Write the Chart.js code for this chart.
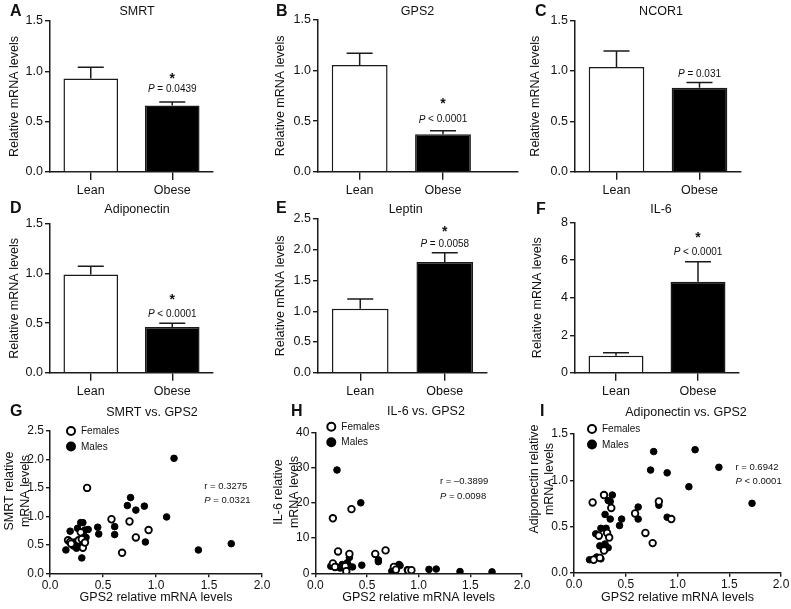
<!DOCTYPE html>
<html>
<head>
<meta charset="utf-8">
<script src="https://cdn.jsdelivr.net/npm/chart.js@4.4.0/dist/chart.umd.min.js"></script>
<style>
  html, body { margin: 0; padding: 0; background: #fff; }
  #fig { position: relative; width: 791px; height: 609px; overflow: hidden; }
  #fig canvas { position: absolute; }
</style>
</head>
<body>
<div id="fig"></div>
<script>
// ---- data ----
const groups = ['Lean', 'Obese'];

const smrtMean = [0.93, 0.66];
const smrtSem = [0.11, 0.035];
const gps2Mean = [1.055, 0.37];
const gps2Sem = [0.115, 0.035];
const ncor1Mean = [1.04, 0.835];
const ncor1Sem = [0.16, 0.05];
const adipoMean = [0.99, 0.46];
const adipoSem = [0.085, 0.04];
const leptinMean = [1.04, 1.80];
const leptinSem = [0.16, 0.15];
const il6Mean = [0.91, 4.85];
const il6Sem = [0.16, 1.07];

// scatter: [GPS2, target] pairs
const smrtFemales = [[0.17,0.58],[0.19,0.55],[0.20,0.52],[0.27,0.58],[0.29,0.72],[0.30,0.60],[0.31,0.45],[0.33,0.54],[0.35,1.50],[0.58,0.95],[0.68,0.36],[0.75,0.91],[0.81,0.63],[0.93,0.76]];
const smrtMales = [[0.15,0.41],[0.19,0.74],[0.22,0.48],[0.23,0.55],[0.25,0.44],[0.26,0.79],[0.28,0.50],[0.29,0.89],[0.30,0.27],[0.31,0.89],[0.32,0.66],[0.33,0.76],[0.34,0.63],[0.36,0.77],[0.45,0.81],[0.46,0.69],[0.61,0.82],[0.61,0.68],[0.73,1.19],[0.76,1.33],[0.81,1.11],[0.89,1.18],[0.90,0.55],[1.10,0.99],[1.17,2.02],[1.40,0.41],[1.71,0.52]];

const il6Females = [[0.17,15.6],[0.35,18.2],[0.22,6.2],[0.33,5.5],[0.58,5.5],[0.68,6.5],[0.17,2.8],[0.19,1.8],[0.29,2.0],[0.30,0.6],[0.76,1.8],[0.78,1.0],[0.90,0.8],[0.93,0.9]];
const il6Males = [[0.21,29.3],[0.44,20.0],[0.15,2.0],[0.20,1.9],[0.24,1.5],[0.26,2.5],[0.28,2.0],[0.31,3.0],[0.32,2.2],[0.33,4.5],[0.36,1.8],[0.45,2.3],[0.61,3.8],[0.61,3.3],[0.74,0.6],[0.76,1.2],[0.81,2.5],[0.82,2.2],[0.89,1.0],[0.90,0.5],[1.10,1.1],[1.17,1.2],[1.40,0.5],[1.71,0.4]];

const adipoFemales = [[0.18,0.76],[0.29,0.84],[0.36,0.70],[0.82,0.77],[0.59,0.64],[0.94,0.58],[0.69,0.43],[0.76,0.32],[0.32,0.43],[0.24,0.40],[0.34,0.38],[0.29,0.24],[0.19,0.14],[0.25,0.16]];
const adipoMales = [[0.77,1.31],[1.17,1.33],[1.40,1.14],[0.74,1.11],[0.90,1.08],[1.11,0.93],[1.72,0.75],[0.37,0.84],[0.33,0.78],[0.35,0.77],[0.62,0.71],[0.82,0.73],[0.30,0.63],[0.35,0.58],[0.46,0.58],[0.62,0.58],[0.90,0.60],[0.44,0.51],[0.26,0.48],[0.31,0.48],[0.21,0.42],[0.25,0.29],[0.30,0.31],[0.33,0.27],[0.15,0.14],[0.19,0.14],[0.22,0.17],[0.26,0.15]];

// ---- styling ----
const FONT = "'Liberation Sans', Arial, Helvetica, sans-serif";
const INK = '#1a1a1a';
Chart.defaults.font.family = FONT;
Chart.defaults.color = '#111';

const fig = document.getElementById('fig');

function makeCanvas(box) {
  const c = document.createElement('canvas');
  c.width = box.w; c.height = box.h;
  c.style.left = box.x + 'px'; c.style.top = box.y + 'px';
  c.style.width = box.w + 'px'; c.style.height = box.h + 'px';
  fig.appendChild(c);
  return c;
}

// draws "P = ..." with italic first letter
function drawStatText(ctx, text, x, y, size, align) {
  const first = text[0], rest = text.slice(1);
  const italic = first === 'P';
  ctx.font = (italic ? 'italic ' : '') + size + 'px ' + FONT;
  const w1 = ctx.measureText(first).width;
  ctx.font = size + 'px ' + FONT;
  const w2 = ctx.measureText(rest).width;
  const x0 = align === 'center' ? x - (w1 + w2) / 2 : x;
  ctx.textAlign = 'left';
  ctx.textBaseline = 'middle';
  ctx.font = (italic ? 'italic ' : '') + size + 'px ' + FONT;
  ctx.fillText(first, x0, y);
  ctx.font = size + 'px ' + FONT;
  ctx.fillText(rest, x0 + w1, y);
}

const deco = {
  id: 'deco',
  afterDraw(chart, args, o) {
    if (!o || !o.box) return;
    const ctx = chart.ctx, ca = chart.chartArea;
    const xs = chart.scales.x, ys = chart.scales.y;
    const bx = o.box.x, by = o.box.y;
    ctx.save();
    ctx.fillStyle = '#111';

    // panel letter
    ctx.font = 'bold 16px ' + FONT;
    ctx.textAlign = 'left'; ctx.textBaseline = 'middle';
    ctx.fillText(o.letter, o.letterX - bx, o.letterY - by);

    // panel title
    ctx.font = o.titleSize + 'px ' + FONT;
    ctx.textAlign = 'center';
    ctx.fillText(o.title, o.titleX - bx, o.titleY - by);

    // two-line rotated y title (scatter panels)
    if (o.yLines) {
      ctx.save();
      ctx.translate(o.yLinesX - bx, o.yLinesY - by);
      ctx.rotate(-Math.PI / 2);
      ctx.font = '12.5px ' + FONT;
      ctx.textAlign = 'center'; ctx.textBaseline = 'middle';
      o.yLines.forEach((t, k) => ctx.fillText(t, 0, k * o.yLinesGap));
      ctx.restore();
    }

    // error bars (upper only)
    if (o.sem) {
      const meta = chart.getDatasetMeta(0);
      const data = chart.data.datasets[0].data;
      ctx.strokeStyle = INK; ctx.lineWidth = 1.5;
      o.sem.forEach((s, i) => {
        const el = meta.data[i];
        const yTop = ys.getPixelForValue(data[i].y + s);
        ctx.beginPath();
        ctx.moveTo(el.x, ys.getPixelForValue(data[i].y));
        ctx.lineTo(el.x, yTop);
        ctx.moveTo(el.x - 13, yTop);
        ctx.lineTo(el.x + 13, yTop);
        ctx.stroke();
      });
      // significance text above the obese bar
      const el = meta.data[1];
      const yTop = ys.getPixelForValue(data[1].y + o.sem[1]);
      ctx.fillStyle = '#111';
      drawStatText(ctx, o.pText, el.x, yTop - o.pDy, 10, 'center');
      if (o.star) {
        ctx.font = 'bold 14px ' + FONT;
        ctx.textAlign = 'center'; ctx.textBaseline = 'alphabetic';
        ctx.fillText('*', el.x, yTop - o.starDy + 8);
      }
    }

    // correlation text
    if (o.stat) {
      const x = xs.getPixelForValue(o.stat.x);
      const y = ys.getPixelForValue(o.stat.y);
      o.stat.lines.forEach((t, k) => drawStatText(ctx, t, x, y + k * 14.5, 9.5, 'left'));
    }

    // legend
    if (o.legend) {
      chart.data.datasets.forEach((ds, k) => {
        const lx = ca.left + o.legend.dx, ly = ca.top + o.legend.dy + k * 15.5;
        ctx.beginPath();
        ctx.arc(lx, ly, 4, 0, Math.PI * 2);
        ctx.fillStyle = ds.backgroundColor;
        ctx.fill();
        ctx.lineWidth = 2; ctx.strokeStyle = ds.borderColor;
        ctx.stroke();
        ctx.fillStyle = '#111';
        ctx.font = '10px ' + FONT;
        ctx.textAlign = 'left'; ctx.textBaseline = 'middle';
        ctx.fillText(ds.label, lx + 10, ly + 0.5);
      });
    }
    ctx.restore();
  }
};
Chart.register(deco);

function yAxis(p, size) {
  const axis = {
    min: 0, max: p.yMax,
    ticks: { stepSize: p.step, padding: 2, font: { size: size }, color: '#111',
             callback: v => v.toFixed(p.dec) },
    grid: { drawOnChartArea: false, drawTicks: true, tickLength: p.yTick, color: INK, lineWidth: 1.4 },
    border: { display: true, color: INK, width: 1.5 },
    title: { display: false },
    afterFit: s => { s.width = p.plot.l - p.box.x; }
  };
  if (p.yTitle) {
    axis.title = { display: true, text: p.yTitle, color: '#111',
                   font: { size: 12.5, lineHeight: 1.2 },
                   padding: { top: p.yTitleX - p.box.x - 7.5, bottom: 0 } };
  }
  return axis;
}

function layoutPadding(p) {
  return { left: 0, bottom: 0, top: p.plot.t - p.box.y, right: p.box.x + p.box.w - p.plot.r };
}

function decoOpts(p) {
  return {
    box: p.box, letter: p.letter, letterX: p.letterX, letterY: p.letterY,
    title: p.title, titleX: p.titleX, titleY: p.titleY, titleSize: p.titleSize || 12.5,
    sem: p.sem, pText: p.pText, pDy: p.pDy, star: p.star, starDy: p.starDy,
    stat: p.stat, legend: p.legend,
    yLines: p.yLines, yLinesX: p.yLinesX, yLinesY: p.yLinesY, yLinesGap: p.yLinesGap
  };
}

function barPanel(p) {
  p.yTick = 5; p.yTitle = 'Relative mRNA levels';
  new Chart(makeCanvas(p.box), {
    type: 'bar',
    data: {
      datasets: [{
        data: p.mean.map((v, i) => ({ x: i, y: v })),
        backgroundColor: ['#ffffff', '#000000'],
        borderColor: INK, borderWidth: 1.5,
        barPercentage: 0.67, categoryPercentage: 1
      }]
    },
    options: {
      responsive: false, animation: false,
      layout: { padding: layoutPadding(p) },
      plugins: { legend: { display: false }, tooltip: { enabled: false }, deco: decoOpts(p) },
      scales: {
        x: {
          type: 'linear', min: -0.5, max: p.xMax, offset: false,
          afterBuildTicks: s => { s.ticks = groups.map((g, i) => ({ value: i })); },
          ticks: { callback: v => groups[v], font: { size: 12.5 }, color: '#111', padding: 3, maxRotation: 0 },
          grid: { offset: false, drawOnChartArea: false, drawTicks: true, tickLength: 8, color: INK, lineWidth: 1.4 },
          border: { display: true, color: INK, width: 1.5 },
          afterFit: s => { s.height = p.box.y + p.box.h - p.plot.b; }
        },
        y: yAxis(p, 12.5)
      }
    }
  });
}

function scatterPanel(p) {
  p.yTick = 4;
  const toPts = arr => arr.map(([x, y]) => ({ x, y }));
  new Chart(makeCanvas(p.box), {
    type: 'scatter',
    data: {
      datasets: [
        { label: 'Females', data: toPts(p.females), backgroundColor: '#ffffff', borderColor: '#000000',
          borderWidth: 1.8, pointRadius: 3.3 },
        { label: 'Males', data: toPts(p.males), backgroundColor: '#000000', borderColor: '#000000',
          borderWidth: 1, pointRadius: 3.3 }
      ]
    },
    options: {
      responsive: false, animation: false,
      layout: { padding: layoutPadding(p) },
      plugins: { legend: { display: false }, tooltip: { enabled: false }, deco: decoOpts(p) },
      scales: {
        x: {
          type: 'linear', min: 0, max: 2,
          ticks: { stepSize: 0.5, callback: v => v.toFixed(1), font: { size: 12 }, color: '#111', padding: 1, maxRotation: 0 },
          grid: { drawOnChartArea: false, drawTicks: true, tickLength: 4, color: INK, lineWidth: 1.4 },
          border: { display: true, color: INK, width: 1.5 },
          title: { display: true, text: 'GPS2 relative mRNA levels', color: '#111',
                   font: { size: 12.5, lineHeight: 1.2 }, padding: { top: 0, bottom: 4 } },
          afterFit: s => { s.height = p.box.y + p.box.h - p.plot.b; }
        },
        y: yAxis(p, 12)
      }
    }
  });
}

// ---- bar panels ----
barPanel({ box: { x: 0, y: 0, w: 272, h: 198 }, plot: { l: 50, r: 213, t: 21, b: 172 },
  yTitleX: 15, letter: 'A', letterX: 10, letterY: 12, title: 'SMRT', titleX: 137, titleY: 11.5,
  mean: smrtMean, sem: smrtSem, yMax: 1.5, step: 0.5, dec: 1, xMax: 1.5,
  pText: 'P = 0.0439', pDy: 13, star: true, starDy: 27 });

barPanel({ box: { x: 262, y: 0, w: 270, h: 198 }, plot: { l: 318, r: 518, t: 20, b: 171.7 },
  yTitleX: 281, letter: 'B', letterX: 276, letterY: 12, title: 'GPS2', titleX: 417.5, titleY: 12,
  mean: gps2Mean, sem: gps2Sem, yMax: 1.5, step: 0.5, dec: 1, xMax: 1.9,
  pText: 'P < 0.0001', pDy: 11, star: true, starDy: 31 });

barPanel({ box: { x: 520, y: 0, w: 271, h: 198 }, plot: { l: 575, r: 741, t: 20.7, b: 171.7 },
  yTitleX: 536, letter: 'C', letterX: 535, letterY: 12, title: 'NCOR1', titleX: 661, titleY: 11.5,
  mean: ncor1Mean, sem: ncor1Sem, yMax: 1.5, step: 0.5, dec: 1, xMax: 1.5,
  pText: 'P = 0.031', pDy: 8, star: false });

barPanel({ box: { x: 0, y: 198, w: 272, h: 202 }, plot: { l: 50, r: 213, t: 224, b: 372.7 },
  yTitleX: 15, letter: 'D', letterX: 10, letterY: 209, title: 'Adiponectin', titleX: 137, titleY: 209.5,
  mean: adipoMean, sem: adipoSem, yMax: 1.5, step: 0.5, dec: 1, xMax: 1.5,
  pText: 'P < 0.0001', pDy: 9, star: true, starDy: 27 });

barPanel({ box: { x: 262, y: 198, w: 270, h: 202 }, plot: { l: 318, r: 487, t: 219, b: 372.7 },
  yTitleX: 281, letter: 'E', letterX: 276, letterY: 209, title: 'Leptin', titleX: 405.7, titleY: 209.5,
  mean: leptinMean, sem: leptinSem, yMax: 2.5, step: 0.5, dec: 1, xMax: 1.5,
  pText: 'P = 0.0058', pDy: 8.3, star: true, starDy: 25 });

barPanel({ box: { x: 520, y: 198, w: 271, h: 202 }, plot: { l: 575, r: 739, t: 222.7, b: 372.7 },
  yTitleX: 538, letter: 'F', letterX: 536, letterY: 210, title: 'IL-6', titleX: 661, titleY: 210,
  mean: il6Mean, sem: il6Sem, yMax: 8, step: 2, dec: 0, xMax: 1.5,
  pText: 'P < 0.0001', pDy: 9.4, star: true, starDy: 28 });

// ---- scatter panels ----
scatterPanel({ box: { x: 0, y: 398, w: 275, h: 211 }, plot: { l: 50, r: 262, t: 431, b: 573.3 },
  yLines: ['SMRT relative', 'mRNA levels'], yLinesX: 10, yLinesY: 491, yLinesGap: 15.5,
  letter: 'G', letterX: 10, letterY: 411.7, title: 'SMRT vs. GPS2', titleX: 152, titleY: 412.7,
  females: smrtFemales, males: smrtMales, yMax: 2.5, step: 0.5, dec: 1,
  stat: { x: 1.455, y: 1.535, lines: ['r = 0.3275', 'P = 0.0321'] }, legend: { dx: 21, dy: 0 } });

scatterPanel({ box: { x: 262, y: 398, w: 273, h: 211 }, plot: { l: 315.3, r: 522, t: 432.3, b: 573.3 },
  yLines: ['IL-6 relative', 'mRNA levels'], yLinesX: 279, yLinesY: 492, yLinesGap: 15.3,
  letter: 'H', letterX: 291, letterY: 411.7, title: 'IL-6 vs. GPS2', titleX: 426, titleY: 412,
  females: il6Females, males: il6Males, yMax: 40, step: 10, dec: 0,
  stat: { x: 1.206, y: 26, lines: ['r = \u20130.3899', 'P = 0.0098'] }, legend: { dx: 16, dy: -5.6 } });

scatterPanel({ box: { x: 520, y: 398, w: 271, h: 211 }, plot: { l: 574, r: 781, t: 434, b: 572.7 },
  yLines: ['Adiponectin relative', 'mRNA levels'], yLinesX: 534.5, yLinesY: 479, yLinesGap: 15.5,
  letter: 'I', letterX: 540, letterY: 411.7, title: 'Adiponectin vs. GPS2', titleX: 686, titleY: 412.7,
  females: adipoFemales, males: adipoMales, yMax: 1.5, step: 0.5, dec: 1,
  stat: { x: 1.56, y: 1.14, lines: ['r = 0.6942', 'P < 0.0001'] }, legend: { dx: 18, dy: -5 } });
</script>
</body>
</html>
